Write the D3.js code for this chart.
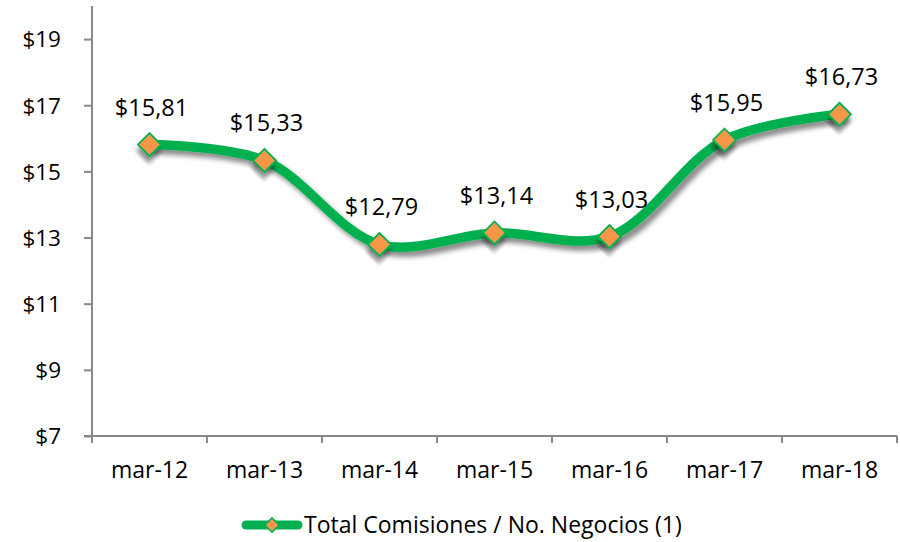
<!DOCTYPE html>
<html><head><meta charset="utf-8">
<script src="https://cdn.jsdelivr.net/npm/d3@7"></script>
<style>
body{margin:0;background:#fff;}
svg{display:block;font-family:"Open Sans",sans-serif;}
</style></head>
<body>
<svg id="chart" width="900" height="542"></svg>
<script>
const categories = ["mar-12","mar-13","mar-14","mar-15","mar-16","mar-17","mar-18"];
const values = [15.81,15.33,12.79,13.14,13.03,15.95,16.73];
const valueLabels = ["$15,81","$15,33","$12,79","$13,14","$13,03","$15,95","$16,73"];
const yTicks = [7,9,11,13,15,17,19];
const seriesName = "Total Comisiones / No. Negocios (1)";

const svg = d3.select("#chart");
const mLeft = 92, mRight = 897, mTop = 6, mBottom = 436;
const x = d3.scaleBand().domain(categories).range([mLeft, mRight]);
const y = d3.scaleLinear().domain([7, 20]).range([mBottom, mTop]);

const defs = svg.append("defs");
const f = defs.append("filter").attr("id","sh").attr("x","-50%").attr("y","-50%").attr("width","200%").attr("height","200%");
f.append("feDropShadow").attr("dx",4).attr("dy",5).attr("stdDeviation",2.5).attr("flood-color","#000").attr("flood-opacity",0.45);

const axisColor = "#888";
// Y axis
const yAxis = svg.append("g").attr("transform",`translate(${mLeft},0)`)
  .call(d3.axisLeft(y).tickValues(yTicks).tickSize(8).tickPadding(0).tickFormat(d=>"$"+d));
yAxis.select(".domain").attr("d",`M0,${mTop}V${mBottom}`).attr("stroke",axisColor).attr("stroke-width",2);
yAxis.selectAll(".tick line").attr("stroke",axisColor).attr("stroke-width",2);
yAxis.selectAll(".tick text").attr("x",-31).attr("dy","0.35em").attr("font-size",22.5).attr("fill","#000").attr("font-family","Open Sans");

// X axis
const xAxis = svg.append("g").attr("transform",`translate(0,${mBottom})`)
  .call(d3.axisBottom(x).tickSize(0).tickPadding(0));
xAxis.select(".domain").attr("d",`M${mLeft-8},0H${mRight}`).attr("stroke",axisColor).attr("stroke-width",2);
xAxis.selectAll(".tick line").remove();
xAxis.selectAll(".tick text").attr("y",34).attr("dy","0.35em").attr("font-size",23).attr("fill","#000").attr("font-family","Open Sans");
const bounds = categories.map(c=>x(c)).concat([mRight]);
xAxis.selectAll("line.bt").data(bounds).enter().append("line").attr("class","bt")
  .attr("x1",d=>d).attr("x2",d=>d).attr("y1",0).attr("y2",7).attr("stroke",axisColor).attr("stroke-width",2);

const pts = categories.map((c,i)=>[x(c)+x.bandwidth()/2, y(values[i])]);
const line = d3.line().curve(d3.curveCatmullRom.alpha(0.5));
svg.append("path").attr("d",line(pts)).attr("fill","none").attr("stroke","#00B050").attr("stroke-width",9.5).attr("stroke-linecap","round").attr("filter","url(#sh)");

const diamond = d3.symbol().type(d3.symbolSquare).size(16*16);
svg.selectAll("path.mk").data(pts).enter().append("path").attr("class","mk")
  .attr("d",diamond).attr("transform",d=>`translate(${d[0]},${d[1]}) rotate(45)`)
  .attr("fill","#F79646").attr("stroke","#00B050").attr("stroke-width",2).attr("filter","url(#sh)");

svg.selectAll("text.lbl").data(pts).enter().append("text").attr("class","lbl")
  .attr("x",d=>d[0]+2).attr("y",d=>d[1]-29).attr("text-anchor","middle")
  .attr("font-size",23.5).attr("fill","#000").text((d,i)=>valueLabels[i]);

// Legend
const lg = svg.append("g");
lg.append("line").attr("x1",246).attr("x2",298).attr("y1",525).attr("y2",525).attr("stroke","#00B050").attr("stroke-width",9).attr("stroke-linecap","round");
lg.append("path").attr("d",d3.symbol().type(d3.symbolSquare).size(10*10)).attr("transform","translate(272,525) rotate(45)").attr("fill","#F79646").attr("stroke","#00B050").attr("stroke-width",1.5);
lg.append("text").attr("x",304).attr("y",533).attr("font-size",23).attr("fill","#000").text(seriesName);
</script>
</body></html>
